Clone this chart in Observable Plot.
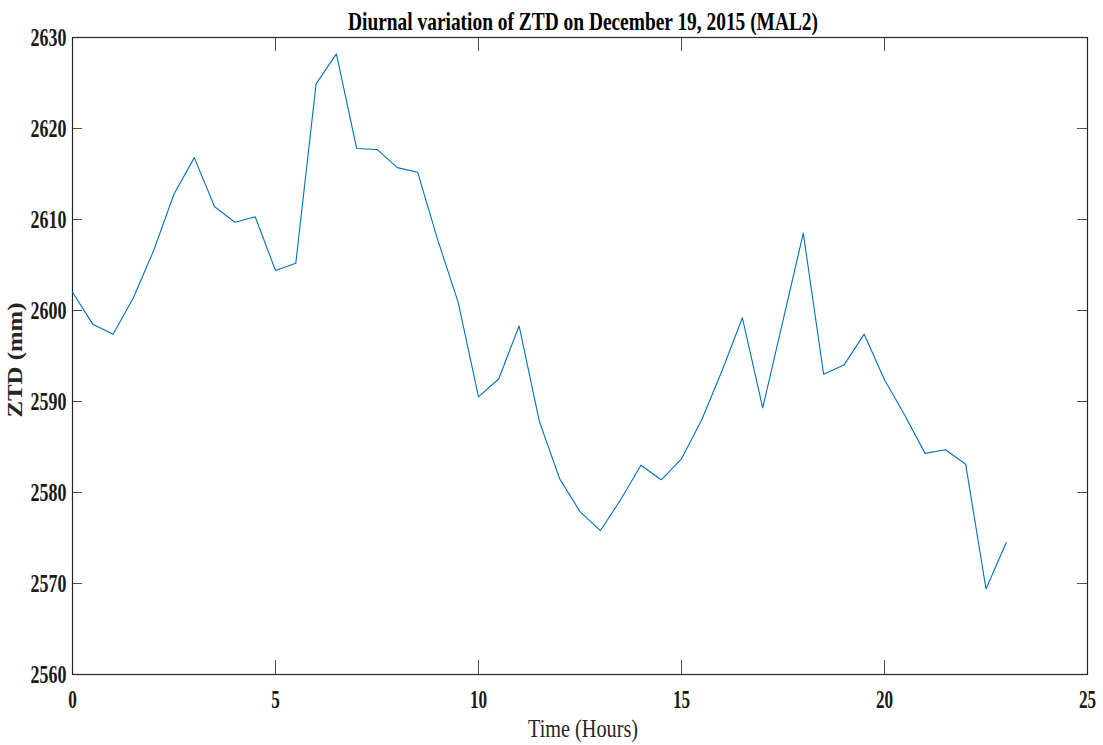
<!DOCTYPE html>
<html>
<head>
<meta charset="utf-8">
<script src="https://cdn.jsdelivr.net/npm/d3@7"></script>
<script src="https://cdn.jsdelivr.net/npm/@observablehq/plot@0.6"></script>
<style>
  html, body { margin: 0; padding: 0; background: #fff; }
</style>
</head>
<body>
<div id="chart"></div>
<script>
const hours = [0,0.5,1,1.5,2,2.5,3,3.5,4,4.5,5,5.5,6,6.5,7,7.5,8,8.5,9,9.5,10,10.5,11,11.5,12,12.5,13,13.5,14,14.5,15,15.5,16,16.5,17,17.5,18,18.5,19,19.5,20,20.5,21,21.5,22,22.5,23];
const ztd = [2602.0,2598.5,2597.4,2601.4,2606.6,2612.8,2616.8,2611.4,2609.7,2610.3,2604.4,2605.2,2624.9,2628.2,2617.8,2617.7,2615.7,2615.2,2607.7,2600.9,2590.5,2592.5,2598.3,2587.8,2581.5,2577.9,2575.8,2579.2,2583.0,2581.4,2583.7,2588.0,2593.4,2599.2,2589.3,2598.9,2608.5,2593.0,2594.0,2597.4,2592.4,2588.5,2584.3,2584.7,2583.1,2569.4,2574.5];
const xTicks = [0,5,10,15,20,25];
const yTicks = [2560,2570,2580,2590,2600,2610,2620,2630];
const titleText = "Diurnal variation of ZTD on December 19, 2015 (MAL2)";
const xLabel = "Time (Hours)";
const yLabel = "ZTD (mm)";

const data = hours.map((h, i) => ({h, v: ztd[i]}));
const xDom = [0, 25], yDom = [2560, 2630];
const xTickLen = 14 / (637 / 70);   // inward tick length in data units (y)
const yTickLen = 10 / (1015 / 25);  // inward tick length in data units (x)
const tickColor = "#4d4d4d";

const chart = Plot.plot({
  width: 1103,
  height: 745,
  marginLeft: 72,
  marginRight: 16,
  marginTop: 37,
  marginBottom: 71,
  x: {domain: xDom},
  y: {domain: yDom},
  style: {fontFamily: "'Liberation Serif', 'Times New Roman', serif", background: "#fff", color: "#262626"},
  marks: [
    Plot.ruleX(xTicks, {x: d => d, y1: yDom[0], y2: yDom[0] + xTickLen, stroke: tickColor, strokeWidth: 1}),
    Plot.ruleX(xTicks, {x: d => d, y1: yDom[1], y2: yDom[1] - xTickLen, stroke: tickColor, strokeWidth: 1}),
    Plot.ruleY(yTicks, {y: d => d, x1: xDom[0], x2: xDom[0] + yTickLen, stroke: tickColor, strokeWidth: 1}),
    Plot.ruleY(yTicks, {y: d => d, x1: xDom[1], x2: xDom[1] - yTickLen, stroke: tickColor, strokeWidth: 1}),
    Plot.frame({stroke: "#262626", strokeWidth: 1.2}),
    Plot.line(data, {x: "h", y: "v", stroke: "#0072BD", strokeWidth: 1.1}),
    Plot.axisX(xTicks, {tickSize: 0, tickPadding: 15, fontSize: 26, fontWeight: "bold", label: null, tickFormat: d => String(d), fill: "#1a1a1a", className: "tickx"}),
    Plot.axisY(yTicks, {tickSize: 0, tickPadding: 6, fontSize: 26, fontWeight: "bold", label: null, tickFormat: d => String(d), fill: "#1a1a1a", className: "ticky"}),
    Plot.text([titleText], {frameAnchor: "top", textAnchor: "middle", dx: 3, dy: -8, lineAnchor: "bottom", fontSize: 26, fontWeight: "bold", fill: "#000", className: "ttl"}),
    Plot.text([yLabel], {frameAnchor: "left", textAnchor: "middle", rotate: -90, dx: -58, dy: 4, fontSize: 22, fontWeight: "bold", fill: "#262626", className: "ylab"}),
    Plot.text([xLabel], {frameAnchor: "bottom", textAnchor: "middle", dx: 3, dy: 62, lineAnchor: "bottom", fontSize: 26, fill: "#262626", className: "xlab"})
  ]
});

document.getElementById("chart").append(chart);

function condense(sel, opt) {
  chart.querySelectorAll(sel + " text").forEach(t => {
    const L = t.getComputedTextLength();
    const target = opt.width != null ? opt.width : L * opt.factor;
    t.setAttribute("textLength", target);
    t.setAttribute("lengthAdjust", "spacingAndGlyphs");
  });
}
condense(".tickx", {factor: 0.66});
condense(".ticky", {factor: 0.69});
condense(".ttl", {width: 470});
condense(".ylab", {width: 115});
condense(".xlab", {width: 110});
</script>
</body>
</html>
